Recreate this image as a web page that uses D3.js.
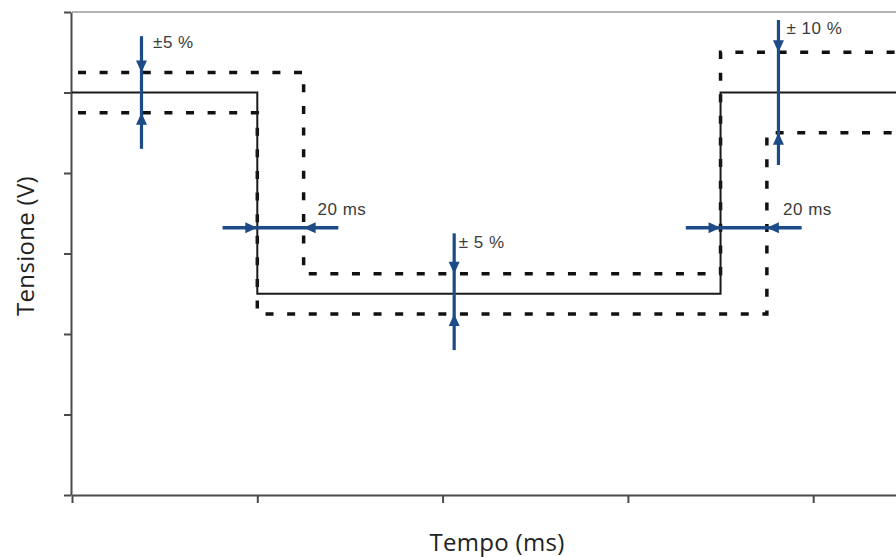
<!DOCTYPE html>
<html>
<head>
<meta charset="utf-8">
<script src="https://cdn.jsdelivr.net/npm/d3@7"></script>
<style>
  body { margin: 0; background: #fff; }
  .axisText { font-family: "Open Sans", sans-serif; font-size: 24px; fill: #222; letter-spacing: 0.3px; }
  .noteText { font-family: "Liberation Sans", Arial, sans-serif; font-size: 17px; fill: #3c3c3c; letter-spacing: 0.5px; }
</style>
</head>
<body>
<div class="chart"></div>
<script>
var svgWidth = 896;
var svgHeight = 557;

// step series: time (ms) where each level starts, and the level (V)
var nominalT = [0, 80, 280, 400];
var nominalV = [5, 2.5, 5, 5];
var upperT = [0, 100, 280, 400];
var upperV = [5.25, 2.75, 5.5, 5.5];
var lowerT = [0, 80, 300, 400];
var lowerV = [4.75, 2.25, 4.5, 4.5];

// vertical tolerance arrows
var vArrowT = [30, 165, 305];
var vArrowTop = [5.7, 3.25, 5.9];
var vArrowBottom = [4.3, 1.8, 4.1];
var vHeadUp = [5.25, 2.75, 5.5];
var vHeadDown = [4.75, 2.25, 4.5];
var vLabels = ["\u00b15 %", "\u00b1 5 %", "\u00b1 10 %"];
var vLabelT = [35, 167, 308.5];
var vLabelV = [5.55, 3.07, 5.73];

// horizontal delay arrows
var hArrowV = [3.32, 3.32];
var hArrowStart = [65, 265];
var hArrowEnd = [115, 315];
var hHeadLeft = [80, 280];
var hHeadRight = [100, 300];
var hLabels = ["20 ms", "20 ms"];
var hLabelT = [106, 307];
var hLabelV = [3.48, 3.48];

var xTicks = [0, 80, 160, 240, 320];

var svg = d3.select(".chart")
  .append("svg")
  .attr("width", svgWidth)
  .attr("height", svgHeight);

var x = d3.scaleLinear().domain([0, 400]).range([72, 72 + 185.3 * 5]);
var y = d3.scaleLinear().domain([0, 6]).range([495, 12]);

// top border of plot area
svg.append("line")
  .attr("x1", x(0)).attr("x2", svgWidth)
  .attr("y1", y(6)).attr("y2", y(6))
  .attr("stroke", "#9a9a9a")
  .attr("stroke-width", 1.6);

var leftAxis = d3.axisLeft(y).ticks(6).tickFormat("").tickSizeInner(7).tickSizeOuter(0);
var bottomAxis = d3.axisBottom(x).tickValues(xTicks).tickFormat("").tickSizeInner(8).tickSizeOuter(0);

var gy = svg.append("g")
  .attr("transform", "translate(" + (x(0) - 1) + ",0)")
  .call(leftAxis);
var gx = svg.append("g")
  .attr("transform", "translate(0," + y(0) + ")")
  .call(bottomAxis);
[gx, gy].forEach(function(g) {
  g.selectAll("path, line").attr("stroke", "#4a4a4a").attr("stroke-width", 2);
});

var line = d3.line()
  .x(d => x(d[0]))
  .y(d => y(d[1]))
  .curve(d3.curveStepAfter);

function pairs(t, v) { return t.map((d, i) => [d, v[i]]); }

svg.append("path")
  .datum(pairs(upperT, upperV))
  .attr("d", line)
  .attr("fill", "none")
  .attr("stroke", "#111")
  .attr("stroke-width", 3.5)
  .attr("stroke-dasharray", "8,13.6")
  .attr("stroke-dashoffset", -6);

svg.append("path")
  .datum(pairs(lowerT, lowerV))
  .attr("d", line)
  .attr("fill", "none")
  .attr("stroke", "#111")
  .attr("stroke-width", 3.5)
  .attr("stroke-dasharray", "8,13.6")
  .attr("stroke-dashoffset", -6);

svg.append("path")
  .datum(pairs(nominalT, nominalV))
  .attr("d", line)
  .attr("fill", "none")
  .attr("stroke", "#1a1a1a")
  .attr("stroke-width", 2);

var blue = "#1d4b87";

function head(px, py, dir) {
  // tip at (px, py); dir: "down", "up", "left", "right"
  var L = 12, W = 5.5;
  if (dir === "down") return `M${px},${py}L${px - W},${py - L}L${px + W},${py - L}Z`;
  if (dir === "up") return `M${px},${py}L${px - W},${py + L}L${px + W},${py + L}Z`;
  if (dir === "right") return `M${px},${py}L${px - L},${py - W}L${px - L},${py + W}Z`;
  return `M${px},${py}L${px + L},${py - W}L${px + L},${py + W}Z`;
}

vArrowT.forEach(function(t, i) {
  var g = svg.append("g");
  g.append("line")
    .attr("x1", x(t)).attr("x2", x(t))
    .attr("y1", y(vArrowTop[i])).attr("y2", y(vArrowBottom[i]))
    .attr("stroke", blue).attr("stroke-width", 3.2);
  g.append("path").attr("d", head(x(t), y(vHeadUp[i]), "down")).attr("fill", blue);
  g.append("path").attr("d", head(x(t), y(vHeadDown[i]), "up")).attr("fill", blue);
  svg.append("text")
    .attr("class", "noteText")
    .attr("x", x(vLabelT[i]))
    .attr("y", y(vLabelV[i]))
    .text(vLabels[i]);
});

hArrowV.forEach(function(v, i) {
  var g = svg.append("g");
  g.append("line")
    .attr("x1", x(hArrowStart[i])).attr("x2", x(hArrowEnd[i]))
    .attr("y1", y(v)).attr("y2", y(v))
    .attr("stroke", blue).attr("stroke-width", 3.5);
  g.append("path").attr("d", head(x(hHeadLeft[i]), y(v), "right")).attr("fill", blue);
  g.append("path").attr("d", head(x(hHeadRight[i]), y(v), "left")).attr("fill", blue);
  svg.append("text")
    .attr("class", "noteText")
    .attr("x", x(hLabelT[i]))
    .attr("y", y(hLabelV[i]))
    .text(hLabels[i]);
});

svg.append("text")
  .attr("class", "axisText")
  .attr("text-anchor", "middle")
  .attr("x", 497)
  .attr("y", 551)
  .text("Tempo (ms)");

svg.append("text")
  .attr("class", "axisText")
  .attr("text-anchor", "middle")
  .attr("transform", "translate(34,246) rotate(-90)")
  .text("Tensione (V)");
</script>
</body>
</html>
